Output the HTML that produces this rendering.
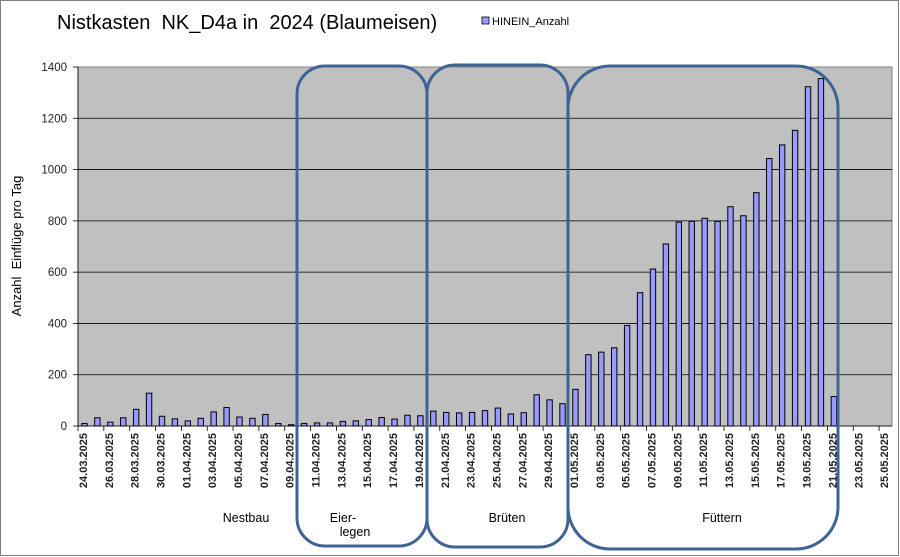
<!DOCTYPE html>
<html><head><meta charset="utf-8"><style>
body{margin:0;background:#fff}
svg{display:block;font-family:"Liberation Sans",Arial,sans-serif}
text{white-space:pre}
</style></head><body>
<svg id="s" width="900" height="557" xmlns="http://www.w3.org/2000/svg" xml:space="preserve">
<rect x="0.5" y="0.5" width="898" height="555" fill="#fff" stroke="#808080"/>
<text x="57" y="29" font-size="20" fill="#000">Nistkasten  NK_D4a in  2024 (Blaumeisen)</text>
<rect x="482" y="17" width="7" height="7" fill="#9999ff" stroke="#000" stroke-width="0.8"/>
<text x="492" y="25" font-size="11">HINEIN_Anzahl</text>
<rect x="78" y="67" width="814" height="359" fill="#c0c0c0" stroke="#808080"/>
<g id="grid" stroke="#000" stroke-width="0.8"></g>
<g id="bars"></g>
<g font-size="11.5" text-anchor="end" fill="#222">
<text x="67" y="430">0</text><text x="67" y="378.7">200</text><text x="67" y="327.4">400</text><text x="67" y="276.1">600</text><text x="67" y="224.9">800</text><text x="67" y="173.6">1000</text><text x="67" y="122.3">1200</text><text x="67" y="71">1400</text>
</g>
<text transform="translate(21,246) rotate(-90)" font-size="13" text-anchor="middle">Anzahl  Einflüge pro Tag</text>
<g font-size="11" font-weight="bold" text-anchor="end" fill="#222">
<text transform="translate(87,433) rotate(-90)">24.03.2025</text>
<text transform="translate(112.8,433) rotate(-90)">26.03.2025</text>
<text transform="translate(138.7,433) rotate(-90)">28.03.2025</text>
<text transform="translate(164.5,433) rotate(-90)">30.03.2025</text>
<text transform="translate(190.3,433) rotate(-90)">01.04.2025</text>
<text transform="translate(216.2,433) rotate(-90)">03.04.2025</text>
<text transform="translate(242,433) rotate(-90)">05.04.2025</text>
<text transform="translate(267.9,433) rotate(-90)">07.04.2025</text>
<text transform="translate(293.7,433) rotate(-90)">09.04.2025</text>
<text transform="translate(319.6,433) rotate(-90)">11.04.2025</text>
<text transform="translate(345.4,433) rotate(-90)">13.04.2025</text>
<text transform="translate(371.2,433) rotate(-90)">15.04.2025</text>
<text transform="translate(397.1,433) rotate(-90)">17.04.2025</text>
<text transform="translate(422.9,433) rotate(-90)">19.04.2025</text>
<text transform="translate(448.8,433) rotate(-90)">21.04.2025</text>
<text transform="translate(474.6,433) rotate(-90)">23.04.2025</text>
<text transform="translate(500.5,433) rotate(-90)">25.04.2025</text>
<text transform="translate(526.3,433) rotate(-90)">27.04.2025</text>
<text transform="translate(552.1,433) rotate(-90)">29.04.2025</text>
<text transform="translate(578,433) rotate(-90)">01.05.2025</text>
<text transform="translate(603.8,433) rotate(-90)">03.05.2025</text>
<text transform="translate(629.7,433) rotate(-90)">05.05.2025</text>
<text transform="translate(655.5,433) rotate(-90)">07.05.2025</text>
<text transform="translate(681.4,433) rotate(-90)">09.05.2025</text>
<text transform="translate(707.2,433) rotate(-90)">11.05.2025</text>
<text transform="translate(733,433) rotate(-90)">13.05.2025</text>
<text transform="translate(758.9,433) rotate(-90)">15.05.2025</text>
<text transform="translate(784.7,433) rotate(-90)">17.05.2025</text>
<text transform="translate(810.6,433) rotate(-90)">19.05.2025</text>
<text transform="translate(836.4,433) rotate(-90)">21.05.2025</text>
<text transform="translate(862.3,433) rotate(-90)">23.05.2025</text>
<text transform="translate(888.1,433) rotate(-90)">25.05.2025</text>
</g>
<g fill="none" stroke="#3d6494" stroke-width="3">
<rect x="297" y="66" width="130" height="480" rx="28"/>
<rect x="427" y="65" width="141" height="482" rx="28"/>
<rect x="568" y="66" width="270" height="483" rx="42"/>
</g>
<g font-size="12.5" text-anchor="middle">
<text x="246" y="522">Nestbau</text>
<text x="343" y="522">Eier-</text>
<text x="355" y="536">legen</text>
<text x="507" y="522">Brüten</text>
<text x="722" y="522">Füttern</text>
</g>
</svg>
<script>
var v=[10,32,15,32,65,128,38,28,20,30,55,72,35,30,45,10,5,10,12,12,18,20,25,33,27,42,40,58,53,51,53,60,70,47,52,122,102,87,143,278,288,305,392,520,612,710,795,798,810,798,855,820,910,1043,1096,1153,1323,1355,115];
var ns="http://www.w3.org/2000/svg",b=document.getElementById('bars'),g=document.getElementById('grid');
function el(p,t,a){var e=document.createElementNS(ns,t);for(var k in a)e.setAttribute(k,a[k]);p.appendChild(e);}
for(var j=1;j<7;j++){var y=426-j*200*359/1400;el(g,'line',{x1:78,x2:892,y1:y,y2:y});}
for(var j=0;j<8;j++){var y=426-j*200*359/1400;el(g,'line',{x1:73,x2:78,y1:y,y2:y});}
el(g,'line',{x1:78,x2:892,y1:426,y2:426});
el(g,'line',{x1:78,x2:78,y1:67,y2:426});
var w=814/63;
for(var i=0;i<=63;i+=2){var x=78+i*w;el(g,'line',{x1:x,x2:x,y1:426,y2:431});}
v.forEach(function(d,i){var h=d*359/1400,c=78+(i+0.5)*w;el(b,'rect',{x:c-2.7,y:426-h,width:5.4,height:h,fill:'#9999ff',stroke:'#000','stroke-width':1});});
</script>
</body></html>
